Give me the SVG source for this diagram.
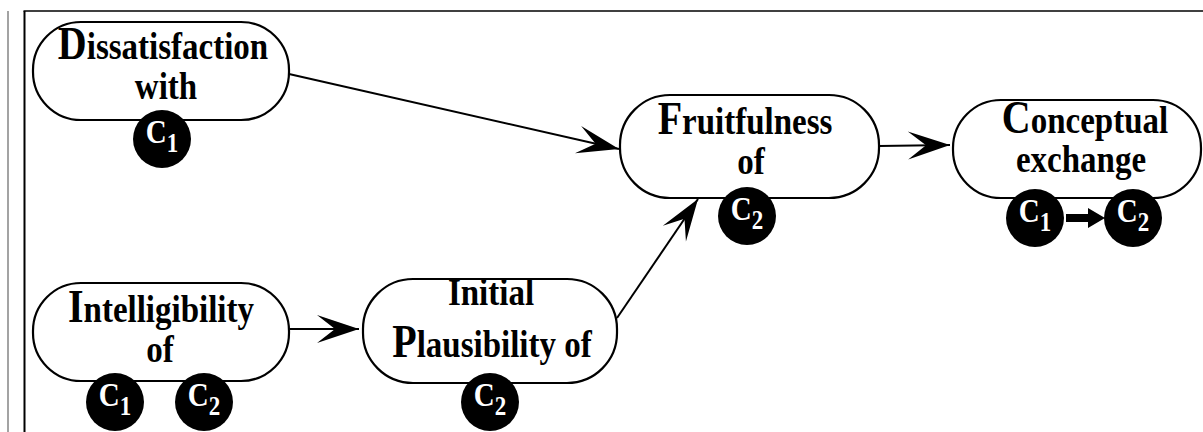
<svg xmlns="http://www.w3.org/2000/svg" width="1203" height="432" viewBox="0 0 1203 432">
<style>
.pill{fill:#fff;stroke:#000;stroke-width:2.2}
.t{font-family:"Liberation Serif","Times New Roman",serif;font-weight:bold;font-size:33px;text-anchor:middle;fill:#000}
.big{font-size:40px}
.dot{fill:#000}
.c{font-family:"Liberation Serif","Times New Roman",serif;font-weight:bold;font-size:29px;text-anchor:middle;fill:#fff}
.sub{font-size:23px}
.conn{fill:none;stroke:#000;stroke-width:2}
</style>
<defs>
<marker id="ah" markerUnits="userSpaceOnUse" markerWidth="44" markerHeight="32" refX="42" refY="15" orient="auto" overflow="visible">
<path d="M42,15 L0,1 L18,15 L0,29 Z" fill="#000"/>
</marker>
</defs>
<rect width="1203" height="432" fill="#fff"/>
<g id="frame">
<line x1="8" y1="11" x2="8" y2="432" stroke="#666" stroke-width="1.2"/>
<line x1="24.5" y1="11" x2="24.5" y2="432" stroke="#000" stroke-width="2"/>
<line x1="23.5" y1="11" x2="1203" y2="11" stroke="#000" stroke-width="1.5"/>
</g>
<g id="connectors">
<path class="conn" d="M289,74 L619,149" marker-end="url(#ah)"/>
<path class="conn" d="M879,146 L950,145" marker-end="url(#ah)"/>
<path class="conn" d="M289,329 L359,329" marker-end="url(#ah)"/>
<path class="conn" d="M617,318 L698,199" marker-end="url(#ah)"/>
</g>
<g id="dissatisfaction">
<rect class="pill" x="33" y="22" width="256" height="98" rx="48" ry="48"/>
<text class="t" transform="translate(163,59) scale(1,1.15)"><tspan class="big">D</tspan>issatisfaction</text>
<text class="t" transform="translate(166,99) scale(1,1.15)">with</text>
<circle class="dot" cx="162" cy="139" r="29"/>
<text class="c" transform="translate(162,143) scale(1,1.15)">C<tspan class="sub" dy="7.5">1</tspan></text>
</g>
<g id="intelligibility">
<rect class="pill" x="33" y="283" width="256" height="98" rx="48" ry="48"/>
<text class="t" transform="translate(161,322) scale(1,1.15)"><tspan class="big">I</tspan>ntelligibility</text>
<text class="t" transform="translate(160,362) scale(1,1.15)">of</text>
<circle class="dot" cx="115" cy="402" r="29"/>
<text class="c" transform="translate(115,406) scale(1,1.15)">C<tspan class="sub" dy="7.5">1</tspan></text>
<circle class="dot" cx="204" cy="402" r="29"/>
<text class="c" transform="translate(204,406) scale(1,1.15)">C<tspan class="sub" dy="7.5">2</tspan></text>
</g>
<g id="plausibility">
<rect class="pill" x="363" y="279" width="254" height="104" rx="50" ry="50"/>
<text class="t" transform="translate(491,305) scale(1,1.15)">Initial</text>
<text class="t" transform="translate(492,357) scale(1,1.15)"><tspan class="big">P</tspan>lausibility of</text>
<circle class="dot" cx="490" cy="402" r="29"/>
<text class="c" transform="translate(490,406) scale(1,1.15)">C<tspan class="sub" dy="7.5">2</tspan></text>
</g>
<g id="fruitfulness">
<rect class="pill" x="620" y="95" width="259" height="103" rx="50" ry="50"/>
<text class="t" transform="translate(745,134) scale(1,1.15)"><tspan class="big">F</tspan>ruitfulness</text>
<text class="t" transform="translate(751,174) scale(1,1.15)">of</text>
<circle class="dot" cx="747" cy="216" r="29"/>
<text class="c" transform="translate(747,220) scale(1,1.15)">C<tspan class="sub" dy="7.5">2</tspan></text>
</g>
<g id="conceptual">
<rect class="pill" x="953" y="100" width="248" height="98" rx="48" ry="48"/>
<text class="t" transform="translate(1085,133) scale(1,1.15)"><tspan class="big">C</tspan>onceptual</text>
<text class="t" transform="translate(1081,172) scale(1,1.15)">exchange</text>
<circle class="dot" cx="1035" cy="218" r="29"/>
<text class="c" transform="translate(1035,222) scale(1,1.15)">C<tspan class="sub" dy="7.5">1</tspan></text>
<circle class="dot" cx="1133" cy="218" r="29"/>
<text class="c" transform="translate(1133,222) scale(1,1.15)">C<tspan class="sub" dy="7.5">2</tspan></text>
<path d="M1066,214 L1088,214 L1088,208 L1105,218 L1088,228 L1088,222 L1066,222 Z" fill="#000"/>
</g>
</svg>
